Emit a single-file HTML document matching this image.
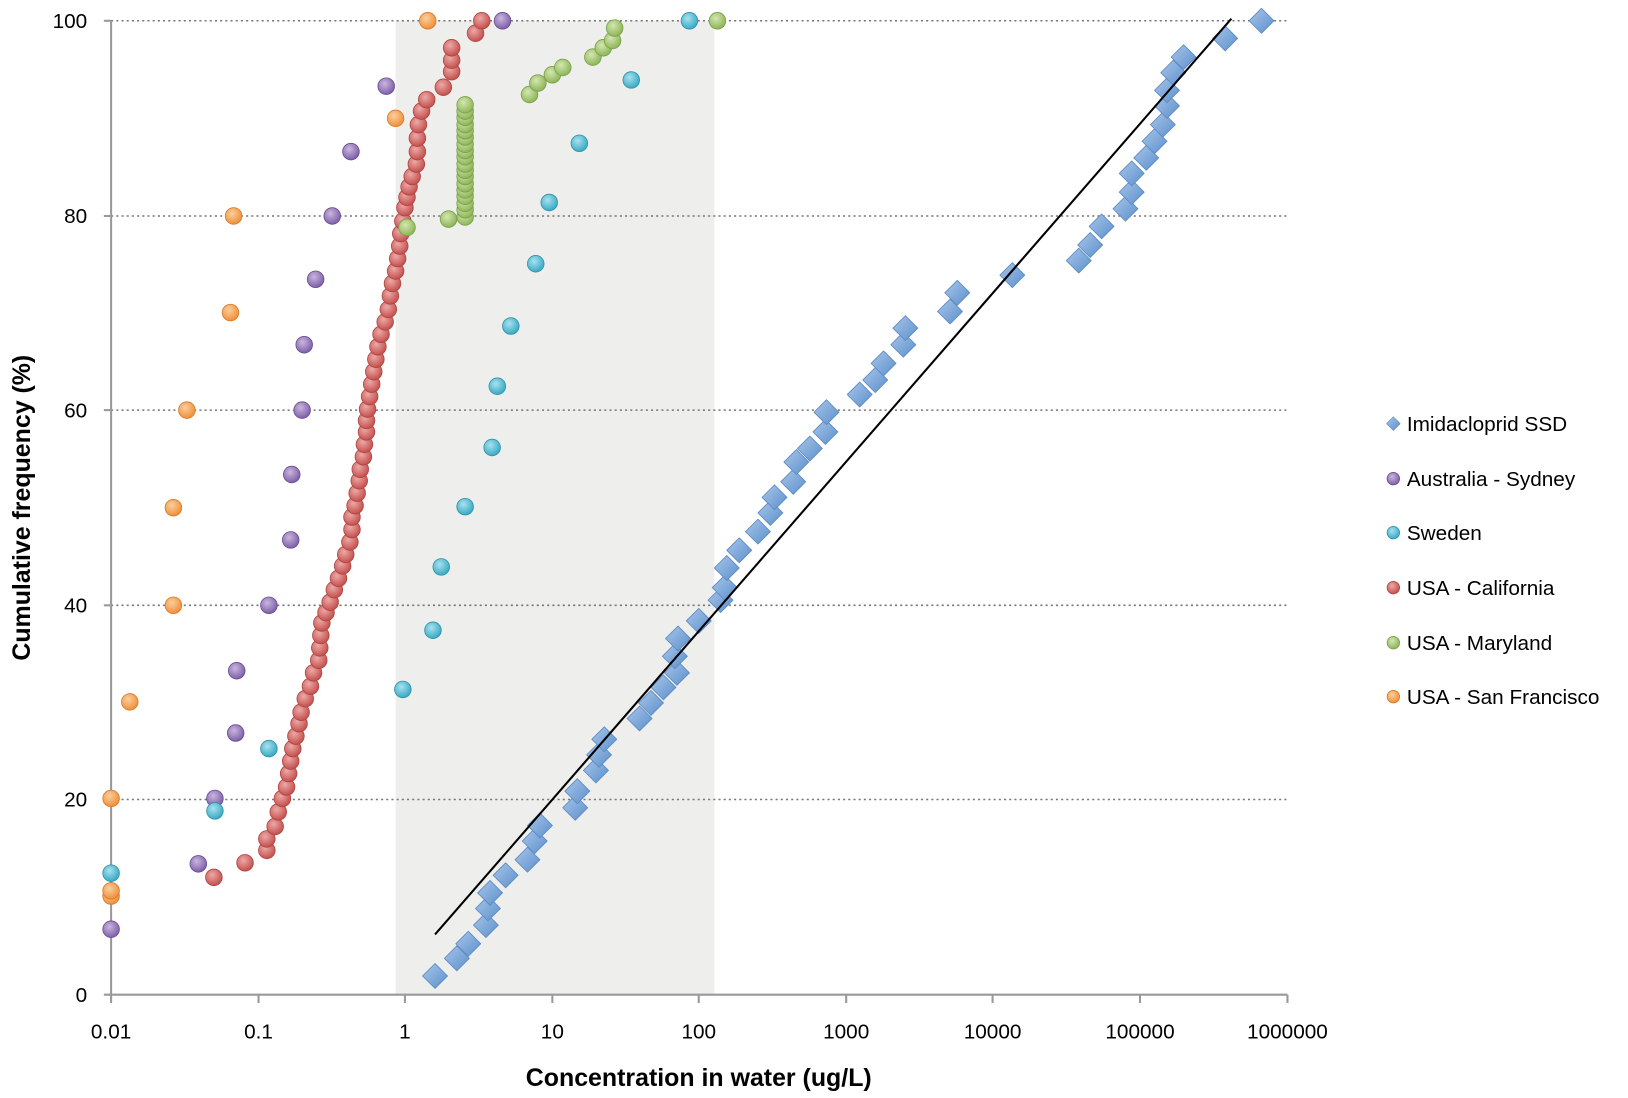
<!DOCTYPE html>
<html><head><meta charset="utf-8"><style>
html,body{margin:0;padding:0;background:#fff;}
svg{display:block;}
text{font-family:"Liberation Sans",sans-serif;fill:#000;}
</style></head><body>
<svg width="1628" height="1098" viewBox="0 0 1568 1057.5" xmlns="http://www.w3.org/2000/svg">
<defs>
<radialGradient id="gP" cx="40%" cy="35%" r="65%"><stop offset="0" stop-color="#c9b6de"/><stop offset="1" stop-color="#7e5fa8"/></radialGradient>
<radialGradient id="gC" cx="40%" cy="35%" r="65%"><stop offset="0" stop-color="#a6e2ef"/><stop offset="1" stop-color="#3aa9c4"/></radialGradient>
<radialGradient id="gR" cx="40%" cy="35%" r="65%"><stop offset="0" stop-color="#eca9a7"/><stop offset="1" stop-color="#c4504d"/></radialGradient>
<radialGradient id="gG" cx="40%" cy="35%" r="65%"><stop offset="0" stop-color="#d3e7b0"/><stop offset="1" stop-color="#8db558"/></radialGradient>
<radialGradient id="gO" cx="40%" cy="35%" r="65%"><stop offset="0" stop-color="#fbcf9d"/><stop offset="1" stop-color="#ef8f3a"/></radialGradient>
<linearGradient id="gB" x1="0" y1="0" x2="1" y2="1"><stop offset="0" stop-color="#a9c6ea"/><stop offset="1" stop-color="#5b8fcb"/></linearGradient>
<path id="dm" d="M0,-12 L12,0 L0,12 L-12,0Z"/>
</defs>
<rect x="381" y="20" width="307" height="938" fill="#eeeeec"/>
<g stroke="#777" stroke-width="1.5" stroke-dasharray="2,3">
<line x1="107" y1="20" x2="1240" y2="20"/><line x1="107" y1="208" x2="1240" y2="208"/>
<line x1="107" y1="395" x2="1240" y2="395"/><line x1="107" y1="583" x2="1240" y2="583"/>
<line x1="107" y1="770" x2="1240" y2="770"/>
</g>
<g stroke="#999" stroke-width="2">
<line x1="107" y1="20" x2="107" y2="958"/><line x1="100" y1="958" x2="1240" y2="958"/>
<line x1="100" y1="20" x2="107" y2="20"/><line x1="100" y1="208" x2="107" y2="208"/><line x1="100" y1="395" x2="107" y2="395"/><line x1="100" y1="583" x2="107" y2="583"/><line x1="100" y1="770" x2="107" y2="770"/>
<line x1="107" y1="958" x2="107" y2="966"/><line x1="249" y1="958" x2="249" y2="966"/><line x1="390" y1="958" x2="390" y2="966"/><line x1="532" y1="958" x2="532" y2="966"/><line x1="673" y1="958" x2="673" y2="966"/><line x1="815" y1="958" x2="815" y2="966"/><line x1="956" y1="958" x2="956" y2="966"/><line x1="1098" y1="958" x2="1098" y2="966"/><line x1="1240" y1="958" x2="1240" y2="966"/>
</g>
<g font-size="20" text-anchor="end">
<text x="84" y="27">100</text><text x="84" y="215">80</text><text x="84" y="402">60</text><text x="84" y="590">40</text><text x="84" y="777">20</text><text x="84" y="965">0</text>
</g>
<g font-size="20" text-anchor="middle">
<text x="107" y="1000">0.01</text><text x="249" y="1000">0.1</text><text x="390" y="1000">1</text><text x="532" y="1000">10</text><text x="673" y="1000">100</text><text x="815" y="1000">1000</text><text x="956" y="1000">10000</text><text x="1098" y="1000">100000</text><text x="1240" y="1000">1000000</text>
</g>
<text x="673" y="1046" font-size="24" font-weight="bold" text-anchor="middle">Concentration in water (ug/L)</text>
<text transform="translate(29,489) rotate(-90)" font-size="24" font-weight="bold" text-anchor="middle">Cumulative frequency (%)</text>

<g fill="url(#gR)" stroke="#b04542" stroke-width="0.8">
<circle cx="206" cy="845" r="8"/><circle cx="236" cy="831" r="8"/><circle cx="257" cy="819" r="8"/><circle cx="257" cy="808" r="8"/><circle cx="265" cy="796" r="8"/><circle cx="268" cy="782" r="8"/><circle cx="272" cy="769" r="8"/><circle cx="276" cy="758" r="8"/><circle cx="278" cy="745" r="8"/><circle cx="280" cy="733" r="8"/><circle cx="282" cy="721" r="8"/><circle cx="285" cy="709" r="8"/><circle cx="288" cy="697" r="8"/><circle cx="290" cy="686" r="8"/><circle cx="294" cy="673" r="8"/><circle cx="299" cy="661" r="8"/><circle cx="302" cy="648" r="8"/><circle cx="307" cy="636" r="8"/><circle cx="308" cy="624" r="8"/><circle cx="309" cy="612" r="8"/><circle cx="310" cy="600" r="8"/><circle cx="314" cy="590" r="8"/><circle cx="318" cy="580" r="8"/><circle cx="322" cy="568" r="8"/><circle cx="326" cy="557" r="8"/><circle cx="330" cy="545" r="8"/><circle cx="333" cy="534" r="8"/><circle cx="337" cy="522" r="8"/><circle cx="339" cy="510" r="8"/><circle cx="339" cy="498" r="8"/><circle cx="342" cy="487" r="8"/><circle cx="344" cy="475" r="8"/><circle cx="346" cy="463" r="8"/><circle cx="347" cy="452" r="8"/><circle cx="350" cy="440" r="8"/><circle cx="351" cy="428" r="8"/><circle cx="353" cy="416" r="8"/><circle cx="353" cy="405" r="8"/><circle cx="354" cy="394" r="8"/><circle cx="356" cy="382" r="8"/><circle cx="358" cy="370" r="8"/><circle cx="360" cy="358" r="8"/><circle cx="362" cy="346" r="8"/><circle cx="364" cy="334" r="8"/><circle cx="367" cy="322" r="8"/><circle cx="371" cy="310" r="8"/><circle cx="374" cy="298" r="8"/><circle cx="376" cy="285" r="8"/><circle cx="378" cy="273" r="8"/><circle cx="381" cy="261" r="8"/><circle cx="383" cy="249" r="8"/><circle cx="385" cy="237" r="8"/><circle cx="386" cy="225" r="8"/><circle cx="388" cy="213" r="8"/><circle cx="390" cy="200" r="8"/><circle cx="392" cy="190" r="8"/><circle cx="394" cy="180" r="8"/><circle cx="397" cy="170" r="8"/><circle cx="401" cy="158" r="8"/><circle cx="402" cy="146" r="8"/><circle cx="402" cy="133" r="8"/><circle cx="403" cy="120" r="8"/><circle cx="406" cy="107" r="8"/><circle cx="411" cy="96" r="8"/><circle cx="427" cy="84" r="8"/><circle cx="435" cy="69" r="8"/><circle cx="435" cy="58" r="8"/><circle cx="435" cy="46" r="8"/><circle cx="458" cy="32" r="8"/><circle cx="464" cy="20" r="8"/>
</g>
<g fill="url(#gG)" stroke="#7aa048" stroke-width="0.8">
<circle cx="392" cy="219" r="8"/><circle cx="432" cy="211" r="8"/>
<circle cx="448" cy="209" r="8"/><circle cx="448" cy="202" r="8"/><circle cx="448" cy="196" r="8"/><circle cx="448" cy="189" r="8"/><circle cx="448" cy="183" r="8"/><circle cx="448" cy="177" r="8"/><circle cx="448" cy="170" r="8"/><circle cx="448" cy="164" r="8"/><circle cx="448" cy="158" r="8"/><circle cx="448" cy="151" r="8"/><circle cx="448" cy="145" r="8"/><circle cx="448" cy="139" r="8"/><circle cx="448" cy="132" r="8"/><circle cx="448" cy="126" r="8"/><circle cx="448" cy="120" r="8"/><circle cx="448" cy="113" r="8"/><circle cx="448" cy="107" r="8"/><circle cx="448" cy="101" r="8"/>
<circle cx="510" cy="91" r="8"/><circle cx="518" cy="80" r="8"/><circle cx="532" cy="72" r="8"/><circle cx="542" cy="65" r="8"/><circle cx="571" cy="55" r="8"/><circle cx="581" cy="46" r="8"/><circle cx="590" cy="39" r="8"/><circle cx="592" cy="27" r="8"/><circle cx="691" cy="20" r="8"/>
</g>
<g fill="url(#gP)" stroke="#6a4d94" stroke-width="0.8">
<circle cx="107" cy="895" r="8"/><circle cx="191" cy="832" r="8"/><circle cx="207" cy="769" r="8"/><circle cx="227" cy="706" r="8"/><circle cx="228" cy="646" r="8"/><circle cx="259" cy="583" r="8"/><circle cx="280" cy="520" r="8"/><circle cx="281" cy="457" r="8"/><circle cx="291" cy="395" r="8"/><circle cx="293" cy="332" r="8"/><circle cx="304" cy="269" r="8"/><circle cx="320" cy="208" r="8"/><circle cx="338" cy="146" r="8"/><circle cx="372" cy="83" r="8"/><circle cx="484" cy="20" r="8"/>
</g>
<g fill="url(#gC)" stroke="#2f93ab" stroke-width="0.8">
<circle cx="107" cy="841" r="8"/><circle cx="207" cy="781" r="8"/><circle cx="259" cy="721" r="8"/><circle cx="388" cy="664" r="8"/><circle cx="417" cy="607" r="8"/><circle cx="425" cy="546" r="8"/><circle cx="448" cy="488" r="8"/><circle cx="474" cy="431" r="8"/><circle cx="479" cy="372" r="8"/><circle cx="492" cy="314" r="8"/><circle cx="516" cy="254" r="8"/><circle cx="529" cy="195" r="8"/><circle cx="558" cy="138" r="8"/><circle cx="608" cy="77" r="8"/><circle cx="664" cy="20" r="8"/>
</g>
<g fill="url(#gO)" stroke="#d97a2a" stroke-width="0.8">
<circle cx="107" cy="769" r="8"/><circle cx="107" cy="863" r="8"/><circle cx="107" cy="858" r="8"/><circle cx="125" cy="676" r="8"/><circle cx="167" cy="583" r="8"/><circle cx="167" cy="489" r="8"/><circle cx="180" cy="395" r="8"/><circle cx="222" cy="301" r="8"/><circle cx="225" cy="208" r="8"/><circle cx="381" cy="114" r="8"/><circle cx="412" cy="20" r="8"/>
</g>
<g fill="url(#gB)" stroke="#5a8ac2" stroke-width="0.8">
<use href="#dm" x="419" y="940"/><use href="#dm" x="440" y="923"/><use href="#dm" x="451" y="909"/><use href="#dm" x="468" y="891"/><use href="#dm" x="470" y="875"/><use href="#dm" x="472" y="860"/><use href="#dm" x="487" y="843"/><use href="#dm" x="508" y="828"/><use href="#dm" x="515" y="810"/><use href="#dm" x="520" y="795"/><use href="#dm" x="554" y="778"/><use href="#dm" x="556" y="762"/><use href="#dm" x="574" y="742"/><use href="#dm" x="577" y="727"/><use href="#dm" x="582" y="712"/><use href="#dm" x="616" y="692"/><use href="#dm" x="627" y="677"/><use href="#dm" x="639" y="662"/><use href="#dm" x="652" y="648"/><use href="#dm" x="650" y="632"/><use href="#dm" x="653" y="615"/><use href="#dm" x="673" y="598"/><use href="#dm" x="694" y="578"/><use href="#dm" x="698" y="566"/><use href="#dm" x="700" y="547"/><use href="#dm" x="712" y="530"/><use href="#dm" x="730" y="512"/>
<use href="#dm" x="742" y="494"/><use href="#dm" x="746" y="479"/><use href="#dm" x="764" y="464"/><use href="#dm" x="767" y="445"/><use href="#dm" x="780" y="432"/><use href="#dm" x="795" y="416"/><use href="#dm" x="796" y="397"/><use href="#dm" x="828" y="380"/><use href="#dm" x="843" y="366"/><use href="#dm" x="851" y="350"/><use href="#dm" x="870" y="332"/><use href="#dm" x="872" y="316"/><use href="#dm" x="915" y="300"/><use href="#dm" x="922" y="282"/><use href="#dm" x="975" y="265"/>
<use href="#dm" x="1039" y="251"/><use href="#dm" x="1050" y="236"/><use href="#dm" x="1061" y="218"/><use href="#dm" x="1084" y="201"/><use href="#dm" x="1090" y="185"/><use href="#dm" x="1090" y="167"/><use href="#dm" x="1104" y="152"/><use href="#dm" x="1112" y="136"/><use href="#dm" x="1120" y="120"/><use href="#dm" x="1124" y="102"/><use href="#dm" x="1124" y="87"/><use href="#dm" x="1130" y="70"/><use href="#dm" x="1140" y="55"/><use href="#dm" x="1180" y="37"/><use href="#dm" x="1215" y="20"/>
</g>
<line x1="419" y1="900" x2="1186" y2="18" stroke="#000" stroke-width="2"/>

<use href="#dm" transform="translate(1342,408) scale(0.55) translate(-1342,-408)" x="1342" y="408" fill="url(#gB)" stroke="#5a8ac2"/>
<circle cx="1342" cy="461" r="6" fill="url(#gP)" stroke="#6a4d94" stroke-width="0.8"/>
<circle cx="1342" cy="513" r="6" fill="url(#gC)" stroke="#2f93ab" stroke-width="0.8"/>
<circle cx="1342" cy="566" r="6" fill="url(#gR)" stroke="#b04542" stroke-width="0.8"/>
<circle cx="1342" cy="619" r="6" fill="url(#gG)" stroke="#7aa048" stroke-width="0.8"/>
<circle cx="1342" cy="671" r="6" fill="url(#gO)" stroke="#d97a2a" stroke-width="0.8"/>
<g font-size="20">
<text x="1355" y="415">Imidacloprid SSD</text>
<text x="1355" y="468">Australia - Sydney</text>
<text x="1355" y="520">Sweden</text>
<text x="1355" y="573">USA - California</text>
<text x="1355" y="626">USA - Maryland</text>
<text x="1355" y="678">USA - San Francisco</text>
</g>
</svg>
</body></html>
